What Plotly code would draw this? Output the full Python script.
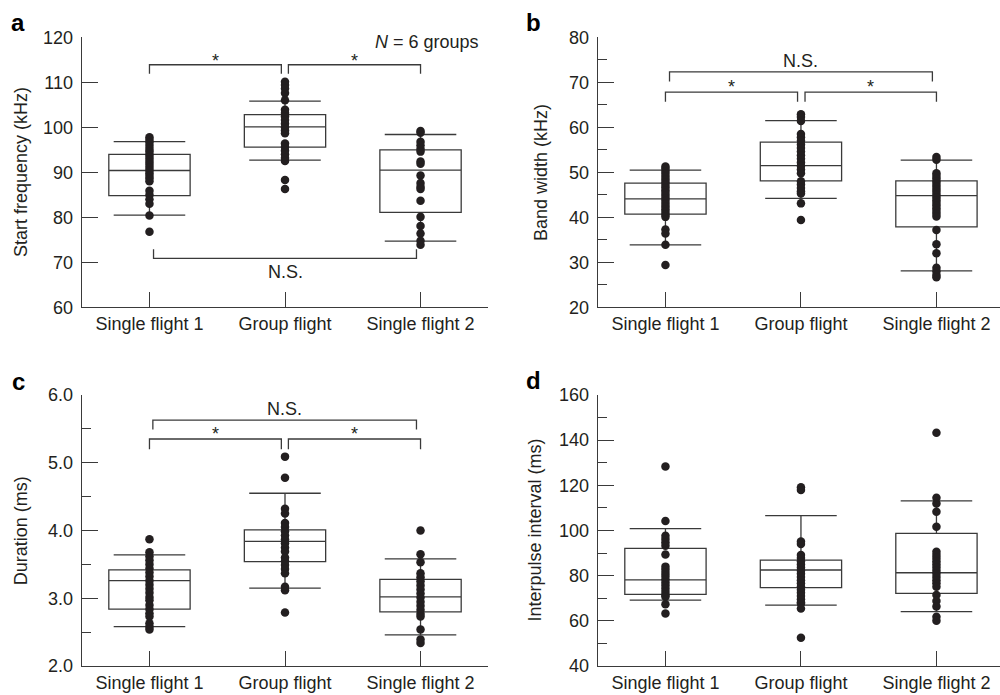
import plotly.graph_objects as go

categories = ["Single flight 1", "Group flight", "Single flight 2"]

# ---- Panel a: start frequency (kHz)
a_q1 = [84.8, 95.6, 81.1]
a_med = [90.4, 100.1, 90.5]
a_q3 = [94.0, 102.8, 95.0]
a_lo = [80.5, 92.7, 74.7]
a_hi = [96.8, 105.8, 98.4]
a_sf1 = [97.8, 97.2, 96.6, 95.9, 95.2, 94.6, 94.0, 93.4, 92.8, 92.2, 91.6, 91.0, 90.4,
         89.8, 89.2, 88.6, 88.0, 85.9, 85.0, 84.0, 83.0, 80.4, 76.8]
a_grp = [110.1, 109.4, 108.6, 107.6, 106.0, 103.9, 103.2, 102.4, 101.6, 100.8, 100.0,
         99.3, 98.7, 96.4, 95.6, 94.8, 94.0, 93.2, 92.5, 88.3, 86.3]
a_sf2 = [99.2, 98.8, 96.8, 96.0, 95.2, 94.6, 92.4, 91.9, 89.3, 87.6, 86.8, 86.3, 83.7,
         80.1, 78.1, 76.4, 74.8, 73.9]

# ---- Panel b: band width (kHz)
b_q1 = [40.7, 48.1, 37.9]
b_med = [44.1, 51.5, 44.8]
b_q3 = [47.6, 56.7, 48.1]
b_lo = [33.9, 44.2, 28.1]
b_hi = [50.5, 61.5, 52.7]
b_sf1 = [51.3, 50.8, 50.2, 49.6, 49.0, 48.4, 47.8, 47.2, 46.6, 46.0, 45.4, 44.8, 44.2,
         43.6, 43.0, 42.4, 41.8, 41.2, 40.6, 40.1, 37.3, 36.4, 33.9, 29.4]
b_grp = [62.9, 62.3, 61.4, 58.5, 57.8, 57.0, 56.2, 55.4, 54.6, 53.8, 53.0, 52.2, 51.4,
         50.6, 49.8, 48.0, 47.3, 46.5, 45.8, 45.3, 43.1, 39.4]
b_sf2 = [53.4, 52.8, 49.8, 49.2, 48.6, 48.0, 47.4, 46.8, 46.2, 45.6, 45.0, 44.4, 43.8,
         43.2, 42.6, 42.0, 41.4, 40.8, 40.2, 37.2, 34.0, 32.0, 28.8, 28.0, 27.2, 26.7]

# ---- Panel c: duration (ms)
c_q1 = [2.84, 3.54, 2.80]
c_med = [3.26, 3.84, 3.02]
c_q3 = [3.42, 4.01, 3.28]
c_lo = [2.58, 3.15, 2.46]
c_hi = [3.64, 4.55, 3.58]
c_sf1 = [3.87, 3.68, 3.62, 3.56, 3.50, 3.44, 3.38, 3.32, 3.26, 3.20, 3.14, 3.08, 3.02,
         2.97, 2.90, 2.84, 2.78, 2.73, 2.63, 2.58, 2.54]
c_grp = [5.09, 4.78, 4.32, 4.25, 4.11, 4.05, 3.99, 3.93, 3.87, 3.81, 3.75, 3.69, 3.60,
         3.55, 3.49, 3.43, 3.37, 3.17, 3.12, 2.79]
c_sf2 = [4.00, 3.65, 3.53, 3.37, 3.31, 3.25, 3.19, 3.13, 3.07, 3.01, 2.95, 2.89, 2.83,
         2.77, 2.73, 2.54, 2.39, 2.34]

# ---- Panel d: interpulse interval (ms)
d_q1 = [71.7, 74.7, 72.2]
d_med = [78.1, 82.5, 81.3]
d_q3 = [92.1, 86.9, 98.7]
d_lo = [69.2, 67.0, 64.1]
d_hi = [100.8, 106.6, 113.1]
d_sf1 = [128.3, 104.2, 97.7, 96.2, 94.8, 93.3, 89.4, 84.0, 82.6, 81.2, 79.8, 78.4, 77.0,
         75.6, 74.2, 72.8, 71.4, 70.7, 67.3, 63.3]
d_grp = [119.1, 117.9, 95.1, 94.0, 89.2, 87.8, 86.4, 85.0, 83.6, 82.2, 80.8, 79.4, 78.0,
         76.6, 75.2, 73.8, 72.4, 71.0, 69.6, 68.2, 67.7, 65.5, 52.5]
d_sf2 = [143.3, 114.5, 112.0, 108.3, 101.7, 90.6, 89.2, 87.8, 86.4, 85.0, 83.6, 82.2,
         80.8, 79.4, 78.0, 76.6, 75.1, 71.4, 68.8, 66.3, 61.8, 60.0]

# ---- significance brackets: (x_start, x_end, y_bar, y_leg_end, label, label_y)
a_brackets = [(0.0, 0.973, 113.9, 111.9, "*", 115.7),
              (1.025, 2.0, 113.9, 111.9, "*", 115.7),
              (0.03, 1.97, 70.9, 72.9, "N.S.", 67.9)]
b_brackets = [(0.03, 1.97, 72.3, 70.2, "N.S.", 74.7),
              (0.0, 0.975, 67.8, 65.7, "*", 69.8),
              (1.03, 2.0, 67.8, 65.7, "*", 69.8)]
c_brackets = [(0.025, 1.97, 5.63, 5.49, "N.S.", 5.80),
              (0.0, 0.973, 5.35, 5.20, "*", 5.48),
              (1.025, 2.0, 5.35, 5.20, "*", 5.48)]

titles = ["Start frequency (kHz)", "Band width (kHz)", "Duration (ms)", "Interpulse interval (ms)"]
letters = ["a", "b", "c", "d"]

LINE = "#3a3a3a"
INK = "#231f20"
FONT = "Liberation Sans, Arial, Helvetica, sans-serif"
FS = 18

panels = [
    dict(q1=a_q1, med=a_med, q3=a_q3, lo=a_lo, hi=a_hi, dots=[a_sf1, a_grp, a_sf2],
         yr=[60, 120], dtick=10, minor=None, brackets=a_brackets),
    dict(q1=b_q1, med=b_med, q3=b_q3, lo=b_lo, hi=b_hi, dots=[b_sf1, b_grp, b_sf2],
         yr=[20, 80], dtick=10, minor=5, brackets=b_brackets),
    dict(q1=c_q1, med=c_med, q3=c_q3, lo=c_lo, hi=c_hi, dots=[c_sf1, c_grp, c_sf2],
         yr=[2.0, 6.0], dtick=1.0, minor=0.5, brackets=c_brackets),
    dict(q1=d_q1, med=d_med, q3=d_q3, lo=d_lo, hi=d_hi, dots=[d_sf1, d_grp, d_sf2],
         yr=[40, 160], dtick=20, minor=10, brackets=[]),
]

xdomains = [[0.0817, 0.4883], [0.5977, 1.0], [0.0817, 0.4883], [0.5977, 1.0]]
xranges = [[-0.5, 2.5], [-0.5, 2.469], [-0.5, 2.5], [-0.5, 2.469]]
ydomains = [[0.5578, 0.9463], [0.5578, 0.9463], [0.0417, 0.4317], [0.0417, 0.4317]]
title_pos = [(0.0217, 0.7521), (0.5417, 0.7521), (0.0217, 0.2367), (0.535, 0.2367)]
letter_pos = [(0.018, 0.967), (0.533, 0.967), (0.018, 0.451), (0.533, 0.453)]

fig = go.Figure()
layout = dict(width=1000, height=695, margin=dict(l=0, r=0, t=0, b=0, pad=0),
              autosize=False,
              paper_bgcolor="white", plot_bgcolor="white", showlegend=False,
              font=dict(family=FONT, color=INK, size=FS))
shapes = []
annotations = []
fmt = [None, None, ".1f", None]

for k, p in enumerate(panels):
    sfx = "" if k == 0 else str(k + 1)
    xa, ya = "x" + sfx, "y" + sfx
    fig.add_trace(go.Box(
        x=[0, 1, 2], q1=p["q1"], median=p["med"], q3=p["q3"],
        lowerfence=p["lo"], upperfence=p["hi"], width=0.6, whiskerwidth=0.88,
        fillcolor="rgba(0,0,0,0)", line=dict(color=LINE, width=1.3),
        boxpoints=False, hoverinfo="skip", xaxis=xa, yaxis=ya))
    for i, vals in enumerate(p["dots"]):
        fig.add_trace(go.Scatter(
            x=[i] * len(vals), y=vals, mode="markers",
            marker=dict(size=8.5, color=INK), hoverinfo="skip", xaxis=xa, yaxis=ya))
    xaxis = dict(domain=xdomains[k], range=xranges[k], anchor=ya, automargin=False,
                 tickmode="array", tickvals=[0, 1, 2], ticktext=categories,
                 ticks="inside", ticklen=15, tickwidth=1.3, tickcolor=LINE,
                 showline=True, linecolor=LINE, linewidth=1.3,
                 showgrid=False, zeroline=False, fixedrange=True,
                 tickfont=dict(size=FS, color=INK), ticklabelstandoff=0)
    yaxis = dict(domain=ydomains[k], range=p["yr"], anchor=xa, automargin=False,
                 tick0=p["yr"][0], dtick=p["dtick"],
                 ticks="inside", ticklen=16, tickwidth=1.3, tickcolor=LINE,
                 showline=True, linecolor=LINE, linewidth=1.3,
                 showgrid=False, zeroline=False, fixedrange=True,
                 tickfont=dict(size=FS, color=INK), ticklabelstandoff=4)
    if fmt[k]:
        yaxis["tickformat"] = fmt[k]
    if p["minor"]:
        yaxis["minor"] = dict(dtick=p["minor"], tick0=p["yr"][0], ticks="inside",
                              ticklen=9, tickwidth=1.3, tickcolor=LINE, showgrid=False)
    layout["xaxis" + sfx] = xaxis
    layout["yaxis" + sfx] = yaxis

    for (x0, x1, ybar, yleg, lab, ly) in p["brackets"]:
        shapes.append(dict(type="path", xref=xa, yref=ya,
                           path=f"M {x0},{yleg} L {x0},{ybar} L {x1},{ybar} L {x1},{yleg}",
                           line=dict(color=LINE, width=1.3)))
        annotations.append(dict(x=(x0 + x1) / 2, y=ly, xref=xa, yref=ya, text=lab,
                                showarrow=False, xanchor="center", yanchor="middle",
                                yshift=-4 if lab == "*" else 0,
                                font=dict(size=FS, color=INK)))

    annotations.append(dict(x=title_pos[k][0], y=title_pos[k][1], xref="paper", yref="paper",
                            text=titles[k], textangle=-90, showarrow=False,
                            xanchor="center", yanchor="middle",
                            font=dict(size=FS, color=INK)))
    annotations.append(dict(x=letter_pos[k][0], y=letter_pos[k][1], xref="paper", yref="paper",
                            text="<b>" + letters[k] + "</b>", showarrow=False,
                            xanchor="center", yanchor="middle",
                            font=dict(size=24, color="#000000")))

annotations.append(dict(x=0.427, y=1 - 42 / 695, xref="paper", yref="paper",
                        text="<i>N</i> = 6 groups", showarrow=False,
                        xanchor="center", yanchor="middle",
                        font=dict(size=FS, color=INK)))

layout["shapes"] = shapes
layout["annotations"] = annotations
fig.update_layout(**layout)
fig.write_html("out.html", config={"responsive": False, "displayModeBar": False},
               post_script="document.body.style.margin='0';document.body.style.overflow='hidden';")
